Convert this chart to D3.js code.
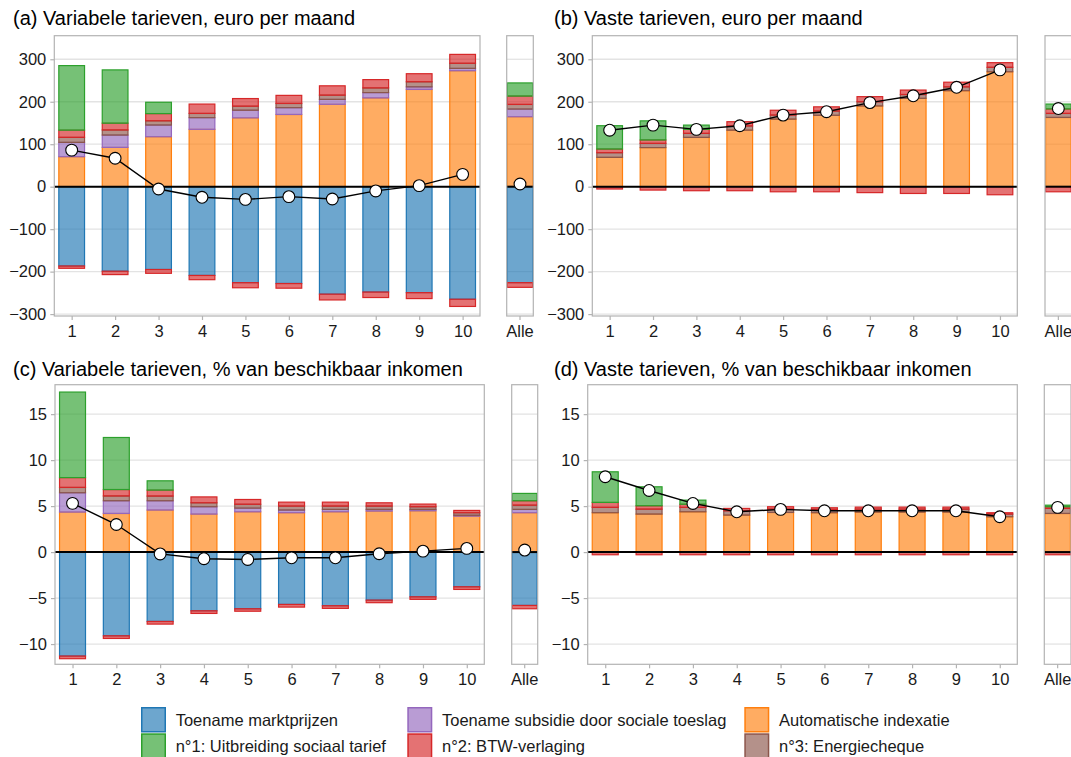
<!DOCTYPE html>
<html>
<head>
<meta charset="utf-8">
<script src="https://cdn.jsdelivr.net/npm/d3@7"></script>
<style>
  html, body { margin: 0; padding: 0; background: #fff; }
  svg { display: block; font-family: "Liberation Sans", Arial, sans-serif; }
</style>
</head>
<body>
<svg id="chart" width="1071" height="757"></svg>
<script>
// ---------- DATA ----------
const categories = ["1","2","3","4","5","6","7","8","9","10","Alle"];
const yTicksEuro = [-300,-200,-100,0,100,200,300];
const yTicksPct = [-10,-5,0,5,10,15];

const titles = [
  "(a) Variabele tarieven, euro per maand",
  "(b) Vaste tarieven, euro per maand",
  "(c) Variabele tarieven, % van beschikbaar inkomen",
  "(d) Vaste tarieven, % van beschikbaar inkomen"
];

const legendLabels = [
  "Toename marktprijzen",
  "Toename subsidie door sociale toeslag",
  "Automatische indexatie",
  "n°1: Uitbreiding sociaal tarief",
  "n°2: BTW-verlaging",
  "n°3: Energiecheque"
];

// (a) variabele tarieven, euro per maand
const aIndexatie   = [70.6, 92.5, 117.6, 135, 162, 170, 194, 209, 229, 273, 164.7];
const aSubsidie    = [33.7, 29, 27.5, 27.5, 18, 16, 11.5, 12.5, 6, 5.5, 18];
const aEnergie     = [11.8, 12, 10, 10, 9.5, 10, 10, 11, 12, 12, 11];
const aBtw         = [17, 16, 17, 22, 18, 19, 22, 19.6, 19, 21, 19.6];
const aSociaal     = [152, 125.5, 26.7, 0, 0, 0, 0, 0, 0, 0, 31];
const aMarkt       = [-186.7, -199, -195, -209, -226, -228, -253, -248, -249.5, -265, -226];
const aBtwNeg      = [-5.5, -8, -9, -10, -12, -11, -13.7, -13, -14, -17, -11];
const aNetto       = [86, 67, -5.5, -25, -30, -23.5, -29, -10, 2.4, 29, 6.3];

// (b) vaste tarieven, euro per maand
const bIndexatie   = [69, 92, 116, 133, 159, 168, 190, 208, 226, 270.6, 163];
const bSubsidie    = [0, 0, 0, 0, 0, 0, 0, 0, 0, 0, 0];
const bEnergie     = [11, 10, 9.5, 10, 9.6, 10, 10, 9, 9, 10.4, 9.5];
const bBtw         = [8.6, 8, 9.5, 10, 11.4, 10, 12, 10.5, 11, 11, 10.5];
const bSociaal     = [55, 45, 10, 0, 0, 0, 0, 0, 0, 0, 11.5];
const bMarkt       = [0, 0, 0, 0, 0, 0, 0, 0, 0, 0, 0];
const bBtwNeg      = [-5.5, -8, -9.5, -9.5, -12, -12, -14, -16, -16, -19, -12];
const bNetto       = [133, 145, 135, 143.5, 168.6, 176.5, 198, 214, 234, 275, 184];

// (c) variabele tarieven, % van beschikbaar inkomen
const cIndexatie   = [4.35, 4.2, 4.57, 4.13, 4.38, 4.28, 4.38, 4.46, 4.49, 3.91, 4.28];
const cSubsidie    = [2.1, 1.38, 1.01, 0.8, 0.4, 0.29, 0.26, 0.18, 0.15, 0.09, 0.36];
const cEnergie     = [0.58, 0.52, 0.51, 0.43, 0.42, 0.43, 0.36, 0.36, 0.29, 0.28, 0.46];
const cBtw         = [1.07, 0.7, 0.65, 0.64, 0.52, 0.43, 0.43, 0.36, 0.29, 0.25, 0.48];
const cSociaal     = [9.3, 5.66, 1.01, 0, 0, 0, 0, 0, 0, 0, 0.8];
const cMarkt       = [-11.3, -9.1, -7.54, -6.38, -6.16, -5.69, -5.83, -5.22, -4.86, -3.77, -5.8];
const cBtwNeg      = [-0.29, -0.29, -0.29, -0.29, -0.27, -0.29, -0.29, -0.28, -0.28, -0.29, -0.36];
const cNetto       = [5.3, 3.0, -0.2, -0.72, -0.8, -0.62, -0.62, -0.18, 0.1, 0.4, 0.22];

// (d) vaste tarieven, % van beschikbaar inkomen
const dIndexatie   = [4.28, 4.13, 4.38, 4.02, 4.31, 4.28, 4.35, 4.35, 4.35, 3.84, 4.2];
const dSubsidie    = [0, 0, 0, 0, 0, 0, 0, 0, 0, 0, 0];
const dEnergie     = [0.58, 0.54, 0.48, 0.47, 0.36, 0.36, 0.32, 0.32, 0.32, 0.29, 0.55];
const dBtw         = [0.54, 0.37, 0.34, 0.26, 0.26, 0.18, 0.22, 0.22, 0.22, 0.15, 0.18];
const dSociaal     = [3.33, 2.06, 0.45, 0, 0, 0, 0, 0, 0, 0, 0.17];
const dMarkt       = [0, 0, 0, 0, 0, 0, 0, 0, 0, 0, 0];
const dBtwNeg      = [-0.29, -0.29, -0.29, -0.29, -0.29, -0.29, -0.29, -0.29, -0.29, -0.29, -0.29];
const dNetto       = [8.19, 6.7, 5.29, 4.38, 4.64, 4.49, 4.49, 4.49, 4.49, 3.84, 4.86];

// ---------- STYLE ----------
const COL = {
  markt: "#1f77b4", subsidie: "#9467bd", indexatie: "#ff7f0e",
  sociaal: "#2ca02c", btw: "#d62728", energie: "#8c564b"
};
const FILL_OP = 0.65;

const svg = d3.select("#chart");

function drawPanel(cfg) {
  const g = svg.append("g");
  const y = d3.scaleLinear().domain(cfg.yDomain).range([cfg.yB, cfg.yT]);
  const x = d3.scaleLinear().domain([0.6, 10.4]).range([cfg.x0, cfg.x1]);
  const xa = d3.scaleBand().domain(["Alle"]).range([cfg.ax0, cfg.ax1]).padding(0);
  const bw = 0.62;

  const panels = [[cfg.x0, cfg.x1], [cfg.ax0, cfg.ax1]];
  panels.forEach(([l, r]) => {
    g.append("rect").attr("x", l).attr("y", cfg.yT).attr("width", r - l).attr("height", cfg.yB - cfg.yT).attr("fill", "#fff");
    g.selectAll(null).data(cfg.ticks).enter().append("line")
      .attr("x1", l).attr("x2", r).attr("y1", d => y(d)).attr("y2", d => y(d))
      .attr("stroke", "#e3e3e3").attr("stroke-width", 1.3);
  });

  const pos = [[cfg.d.indexatie, COL.indexatie], [cfg.d.subsidie, COL.subsidie], [cfg.d.energie, COL.energie],
               [cfg.d.btw, COL.btw], [cfg.d.sociaal, COL.sociaal]];
  const neg = [[cfg.d.markt, COL.markt], [cfg.d.btwNeg, COL.btw]];

  const rects = [];
  categories.forEach((cat, i) => {
    let xl, xr;
    if (cat === "Alle") { xl = xa("Alle"); xr = xa("Alle") + xa.bandwidth(); }
    else { const c = +cat; xl = x(c - bw / 2); xr = x(c + bw / 2); }
    let base = 0;
    pos.forEach(([arr, col]) => {
      const v = arr[i];
      if (v > 0) { rects.push({ xl, xr, y0: base, y1: base + v, col }); base += v; }
    });
    base = 0;
    neg.forEach(([arr, col]) => {
      const v = arr[i];
      if (v < 0) { rects.push({ xl, xr, y0: base + v, y1: base, col }); base += v; }
    });
  });
  g.selectAll(null).data(rects).enter().append("rect")
    .attr("x", d => d.xl + 0.6).attr("width", d => d.xr - d.xl - 1.2)
    .attr("y", d => y(d.y1)).attr("height", d => Math.max(0, y(d.y0) - y(d.y1)))
    .attr("fill", d => d.col).attr("fill-opacity", FILL_OP)
    .attr("stroke", d => d.col).attr("stroke-width", 1.2);

  panels.forEach(([l, r]) => {
    g.append("line").attr("x1", l).attr("x2", r).attr("y1", y(0)).attr("y2", y(0))
      .attr("stroke", "#000").attr("stroke-width", 2);
  });

  const netMain = cfg.d.netto.slice(0, 10).map((v, i) => [i + 1, v]);
  g.append("path").datum(netMain)
    .attr("d", d3.line().x(d => x(d[0])).y(d => y(d[1])))
    .attr("fill", "none").attr("stroke", "#000").attr("stroke-width", 1.4);
  g.selectAll(null).data(netMain).enter().append("circle")
    .attr("cx", d => x(d[0])).attr("cy", d => y(d[1])).attr("r", 5.9)
    .attr("fill", "#fff").attr("stroke", "#000").attr("stroke-width", 1.1);
  g.append("circle").attr("cx", xa("Alle") + xa.bandwidth() / 2).attr("cy", y(cfg.d.netto[10])).attr("r", 5.9)
    .attr("fill", "#fff").attr("stroke", "#000").attr("stroke-width", 1.1);

  panels.forEach(([l, r]) => {
    g.append("rect").attr("x", l).attr("y", cfg.yT).attr("width", r - l).attr("height", cfg.yB - cfg.yT)
      .attr("fill", "none").attr("stroke", "#b3b3b3").attr("stroke-width", 1.2);
  });

  const ya = g.append("g").attr("transform", `translate(${cfg.x0},0)`)
    .call(d3.axisLeft(y).tickValues(cfg.ticks).tickSize(4).tickPadding(4).tickFormat(d3.format("d")));
  const xaxis = g.append("g").attr("transform", `translate(0,${cfg.yB})`)
    .call(d3.axisBottom(x).tickValues(d3.range(1, 11)).tickSize(4).tickPadding(5).tickFormat(d3.format("d")));
  const xaAxis = g.append("g").attr("transform", `translate(0,${cfg.yB})`)
    .call(d3.axisBottom(xa).tickSize(4).tickPadding(5));
  [ya, xaxis, xaAxis].forEach(a => {
    a.select(".domain").remove();
    a.selectAll(".tick line").attr("stroke", "#b3b3b3").attr("stroke-width", 1.2);
    a.selectAll(".tick text").attr("fill", "#1a1a1a").style("font-size", "16.5px")
      .style("font-family", "'Liberation Sans', Arial, sans-serif");
  });

  svg.append("text").attr("x", cfg.titleX).attr("y", cfg.titleY).text(cfg.title)
    .attr("fill", "#000").style("font-size", "20px");
}

const euroDom = [-304.5, 355.5];
const pctDom = [-12.2, 18.2];

drawPanel({ title: titles[0], titleX: 13, titleY: 25, x0: 54.3, x1: 480, ax0: 506.7, ax1: 533.3,
  yT: 35.7, yB: 316, yDomain: euroDom, ticks: yTicksEuro,
  d: { indexatie: aIndexatie, subsidie: aSubsidie, energie: aEnergie, btw: aBtw, sociaal: aSociaal,
       markt: aMarkt, btwNeg: aBtwNeg, netto: aNetto } });
drawPanel({ title: titles[1], titleX: 554, titleY: 25, x0: 592.3, x1: 1017.3, ax0: 1045, ax1: 1071.7,
  yT: 35.7, yB: 316, yDomain: euroDom, ticks: yTicksEuro,
  d: { indexatie: bIndexatie, subsidie: bSubsidie, energie: bEnergie, btw: bBtw, sociaal: bSociaal,
       markt: bMarkt, btwNeg: bBtwNeg, netto: bNetto } });
drawPanel({ title: titles[2], titleX: 13, titleY: 376, x0: 55, x1: 484.3, ax0: 511.7, ax1: 537.7,
  yT: 384.7, yB: 664.3, yDomain: pctDom, ticks: yTicksPct,
  d: { indexatie: cIndexatie, subsidie: cSubsidie, energie: cEnergie, btw: cBtw, sociaal: cSociaal,
       markt: cMarkt, btwNeg: cBtwNeg, netto: cNetto } });
drawPanel({ title: titles[3], titleX: 554, titleY: 376, x0: 587.7, x1: 1017.3, ax0: 1044.3, ax1: 1071,
  yT: 384.7, yB: 664.3, yDomain: pctDom, ticks: yTicksPct,
  d: { indexatie: dIndexatie, subsidie: dSubsidie, energie: dEnergie, btw: dBtw, sociaal: dSociaal,
       markt: dMarkt, btwNeg: dBtwNeg, netto: dNetto } });

// ---------- LEGEND ----------
const legendCols = [COL.markt, COL.subsidie, COL.indexatie, COL.sociaal, COL.btw, COL.energie];
const colX = [141, 407.3, 744.3];
const rowY = [707, 733.3];
const lg = svg.append("g");
legendLabels.forEach((lab, i) => {
  const cx = colX[i % 3], ry = rowY[Math.floor(i / 3)];
  lg.append("rect").attr("x", cx + 0.75).attr("y", ry + 0.75).attr("width", 23.5).attr("height", 24)
    .attr("fill", legendCols[i]).attr("fill-opacity", FILL_OP)
    .attr("stroke", legendCols[i]).attr("stroke-width", 1.5);
  lg.append("text").attr("x", cx + 34.7).attr("y", ry + 19).text(lab)
    .attr("fill", "#1a1a1a").style("font-size", "16.5px");
});
</script>
</body>
</html>
